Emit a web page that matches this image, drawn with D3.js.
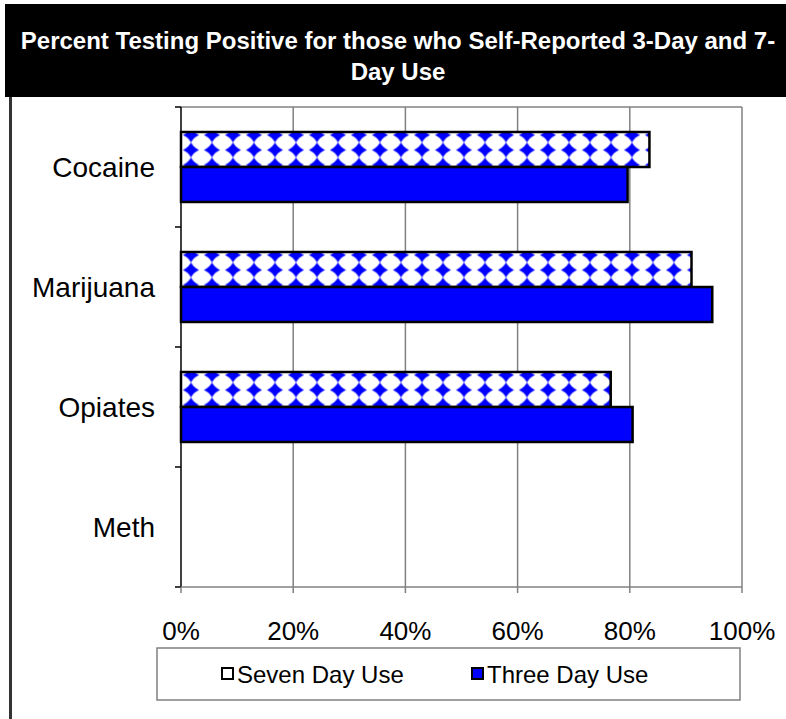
<!DOCTYPE html>
<html>
<head>
<meta charset="utf-8">
<script src="https://cdn.jsdelivr.net/npm/d3@7"></script>
<style>
    html, body { margin: 0; padding: 0; background: #fff; }
    svg { display: block; font-family: "Liberation Sans", Arial, sans-serif; }
</style>
</head>
<body>
<div id="chart"></div>
<script>
(function () {

    /* data */
    var categories = ["Cocaine", "Marijuana", "Opiates", "Meth"];
    var seriesNames = ["Seven Day Use", "Three Day Use"];
    var sevenDay = [0.835, 0.91, 0.766, null];
    var threeDay = [0.796, 0.947, 0.805, null];
    var xTicks = [0, 0.2, 0.4, 0.6, 0.8, 1.0];
    var titleLines = ["Percent Testing Positive for those who Self-Reported 3-Day and 7-", "Day Use"];

    var W = 786, H = 719;
    var PLOT = { left: 181, right: 742, top: 107, bottom: 587 };

    var svg = d3.select("#chart").append("svg")
        .attr("width", W).attr("height", H);

    /* diamond fill pattern */
    var defs = svg.append("defs");
    var PW = 21, PH = 15;
    var pat = defs.append("pattern")
        .attr("id", "diamonds")
        .attr("patternUnits", "userSpaceOnUse")
        .attr("x", 191 - PW / 2).attr("y", 135 - PH / 2)
        .attr("width", PW).attr("height", PH);
    pat.append("rect").attr("width", PW).attr("height", PH).attr("fill", "#fff");
    var cx = PW / 2, cy = PH / 2, hw = 8, hh = 7.6, k = 2.5;
    pat.append("path")
        .attr("fill", "#0000ff")
        .attr("d",
            "M" + cx + "," + (cy - hh) +
            "Q" + (cx + k) + "," + (cy - k) + " " + (cx + hw) + "," + cy +
            "Q" + (cx + k) + "," + (cy + k) + " " + cx + "," + (cy + hh) +
            "Q" + (cx - k) + "," + (cy + k) + " " + (cx - hw) + "," + cy +
            "Q" + (cx - k) + "," + (cy - k) + " " + cx + "," + (cy - hh) + "Z");

    /* header */
    svg.append("rect")
        .attr("x", 5).attr("y", 4)
        .attr("width", W - 5).attr("height", 93)
        .attr("fill", "#000");
    svg.selectAll(".title")
        .data(titleLines)
        .enter()
        .append("text")
        .attr("class", "title")
        .attr("x", 398)
        .attr("y", function (d, i) { return 49 + i * 31; })
        .attr("text-anchor", "middle")
        .attr("fill", "#fff")
        .attr("font-weight", "bold")
        .attr("font-size", 24)
        .text(function (d) { return d; });

    /* left frame line */
    svg.append("rect")
        .attr("x", 9).attr("y", 97)
        .attr("width", 3).attr("height", H - 97)
        .attr("fill", "#333");

    /* scales */
    var x = d3.scaleLinear().domain([0, 1]).range([PLOT.left, PLOT.right]);
    var y = d3.scaleBand().domain(categories)
        .range([PLOT.top, PLOT.bottom])
        .paddingInner(0.4167).paddingOuter(0.4167 / 2);
    var ySub = d3.scaleBand().domain(seriesNames).range([0, y.bandwidth()]);

    /* gridlines */
    svg.append("g")
        .selectAll("line")
        .data(xTicks.slice(1))
        .enter()
        .append("line")
        .attr("x1", function (d) { return x(d); })
        .attr("x2", function (d) { return x(d); })
        .attr("y1", PLOT.top).attr("y2", PLOT.bottom)
        .attr("stroke", "#808080").attr("stroke-width", 1.5);

    /* top border */
    svg.append("line")
        .attr("x1", PLOT.left).attr("x2", PLOT.right)
        .attr("y1", PLOT.top).attr("y2", PLOT.top)
        .attr("stroke", "#808080").attr("stroke-width", 1.5);

    /* bars */
    var rows = categories.map(function (c, i) {
        return [
            { cat: c, series: seriesNames[0], value: sevenDay[i] },
            { cat: c, series: seriesNames[1], value: threeDay[i] }
        ];
    });
    var barData = d3.merge(rows).filter(function (d) { return d.value != null; });

    svg.append("g")
        .selectAll("rect")
        .data(barData)
        .enter()
        .append("rect")
        .attr("x", x(0))
        .attr("y", function (d) { return y(d.cat) + ySub(d.series); })
        .attr("width", function (d) { return x(d.value) - x(0); })
        .attr("height", ySub.bandwidth())
        .attr("fill", function (d) { return d.series === seriesNames[0] ? "url(#diamonds)" : "#0000ff"; })
        .attr("stroke", "#000")
        .attr("stroke-width", 2.5);

    /* category axis */
    var yAxis = svg.append("g");
    yAxis.append("line")
        .attr("x1", PLOT.left).attr("x2", PLOT.left)
        .attr("y1", PLOT.top).attr("y2", PLOT.bottom)
        .attr("stroke", "#000").attr("stroke-width", 1.5);
    var bounds = categories.map(function (c) { return y(c) - y.step() * y.paddingInner() / 2; });
    bounds.push(PLOT.bottom);
    yAxis.selectAll(".ytick")
        .data(bounds)
        .enter()
        .append("line")
        .attr("x1", PLOT.left - 6).attr("x2", PLOT.left)
        .attr("y1", function (d) { return d; })
        .attr("y2", function (d) { return d; })
        .attr("stroke", "#000").attr("stroke-width", 1.5);
    yAxis.selectAll(".ylab")
        .data(categories)
        .enter()
        .append("text")
        .attr("x", 155)
        .attr("y", function (d) { return y(d) + y.bandwidth() / 2; })
        .attr("dy", "0.35em")
        .attr("text-anchor", "end")
        .attr("font-size", 28)
        .attr("fill", "#000")
        .text(function (d) { return d; });

    /* value axis */
    var xAxis = svg.append("g");
    xAxis.append("line")
        .attr("x1", PLOT.left).attr("x2", PLOT.right)
        .attr("y1", PLOT.bottom).attr("y2", PLOT.bottom)
        .attr("stroke", "#808080").attr("stroke-width", 1.5);
    xAxis.selectAll(".xtick")
        .data(xTicks)
        .enter()
        .append("line")
        .attr("x1", function (d) { return x(d); })
        .attr("x2", function (d) { return x(d); })
        .attr("y1", PLOT.bottom).attr("y2", PLOT.bottom + 6)
        .attr("stroke", "#808080").attr("stroke-width", 1.5);
    xAxis.selectAll(".xlab")
        .data(xTicks)
        .enter()
        .append("text")
        .attr("x", function (d) { return x(d); })
        .attr("y", 640)
        .attr("text-anchor", "middle")
        .attr("font-size", 26)
        .attr("fill", "#000")
        .text(d3.format(".0%"));

    /* legend */
    var legend = svg.append("g");
    legend.append("rect")
        .attr("x", 157).attr("y", 648)
        .attr("width", 583).attr("height", 52)
        .attr("fill", "#fff")
        .attr("stroke", "#808080").attr("stroke-width", 1.5);
    var legendX = [222, 472];
    seriesNames.forEach(function (s, i) {
        legend.append("rect")
            .attr("x", legendX[i]).attr("y", 668)
            .attr("width", 11).attr("height", 11)
            .attr("fill", i === 0 ? "#fff" : "#0000ff")
            .attr("stroke", "#000").attr("stroke-width", 2);
        legend.append("text")
            .attr("x", legendX[i] + 15).attr("y", 683)
            .attr("font-size", 24)
            .attr("fill", "#000")
            .text(s);
    });

}());
</script>
</body>
</html>
